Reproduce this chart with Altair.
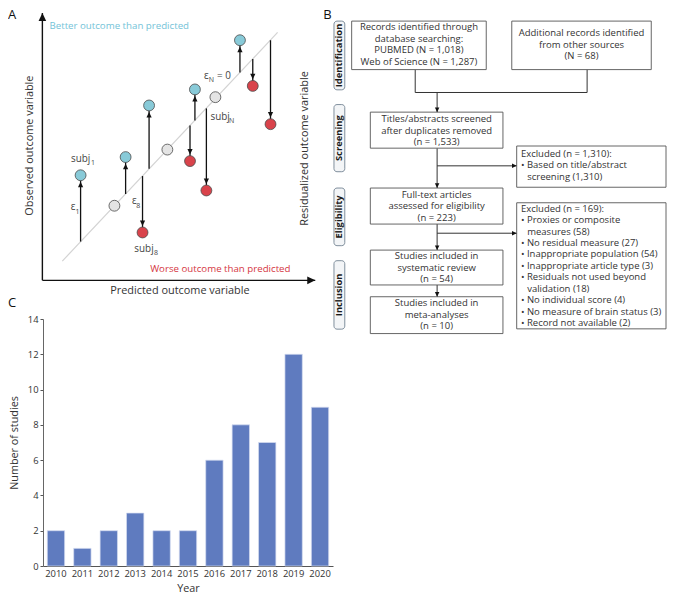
import altair as alt
import pandas as pd

FONT = "Open Sans"
TXT = "#333333"

# ---------------- Panel C: number of studies per year ----------------
years = ["2010", "2011", "2012", "2013", "2014", "2015", "2016", "2017", "2018", "2019", "2020"]
n_studies = [2, 1, 2, 3, 2, 2, 6, 8, 7, 12, 9]

# ---------------- Panel A: residual schematic (predicted / observed units) ----------------
subj_predicted = [1.40, 2.64, 3.05, 3.67, 3.91, 4.58, 5.41, 5.59, 6.01, 6.34, 7.24, 7.71, 8.36]
subj_fitted = [1.45, 2.79, 3.23, 3.90, 4.17, 4.89, 5.79, 5.98, 6.43, 6.85, 7.77, 8.28, 8.98]
subj_observed = [3.93, 2.79, 4.61, 1.79, 6.54, 4.89, 4.46, 7.14, 3.36, 6.85, 8.98, 7.27, 5.84]
subj_outcome = ["better", "fit", "better", "worse", "better", "fit", "worse",
                "better", "worse", "fit", "better", "worse", "worse"]
fit_line_x = [0.73, 8.62]
fit_line_y = [0.72, 9.27]
axis_len_x = 10
axis_len_y = 10

# ---------------- Panel B: PRISMA flow ----------------
phase_labels = ["Identification", "Screening", "Eligibility", "Inclusion"]
box_texts = [
    ["Records identified through", "database searching:", "PUBMED (N = 1,018)", "Web of Science (N = 1,287)"],
    ["Additional records identified", "from other sources", "(N = 68)"],
    ["Titles/abstracts screened", "after duplicates removed", "(n = 1,533)"],
    ["Full-text articles", "assessed for eligibility", "(n = 223)"],
    ["Studies included in", "systematic review", "(n = 54)"],
    ["Studies included in", "meta-analyses", "(n = 10)"],
]
excl_texts = [
    ["Excluded (n = 1,310):", "• Based on title/abstract", "  screening (1,310)"],
    ["Excluded (n = 169):", "• Proxies or composite", "  measures (58)", "• No residual measure (27)",
     "• Inappropriate population (54)", "• Inappropriate article type (3)",
     "• Residuals not used beyond", "  validation (18)", "• No individual score (4)",
     "• No measure of brain status (3)", "• Record not available (2)"],
]

# ---------------- layout (flow-chart geometry, panel B units) ----------------
tab_x = (334, 345)
tab_y = [(13.3, 83.3), (98.3, 166.7), (183.3, 242.0), (257.3, 327.0)]
box_geom = [(352, 489, 13.3, 62.7), (515, 657, 13.3, 62.7), (371, 506, 106, 142.7),
            (371, 506, 183.3, 220), (371, 506, 246.5, 282), (371, 506, 294, 331.5)]
box_first = [19.5, 25.7, 113.3, 190.3, 252.6, 300.7]
excl_geom = [(520, 672, 140.5, 182.5), (520, 672, 198.3, 326.7)]
excl_first = [148.5, 204.3]
excl_left = 524.3
excl_indent = 6.4
LINE_H = 11.65
segments = [(416.7, 62.7, 416.7, 86), (591.7, 62.7, 591.7, 86), (416.7, 86, 591.7, 86),
            (439, 86, 439, 106), (439, 142.7, 439, 183.3), (439, 160.7, 520, 160.7),
            (439, 220, 439, 246.5), (439, 229.3, 520, 229.3), (439, 282, 439, 294)]
heads_down = [(439, 106), (439, 183.3), (439, 246.5), (439, 294)]
heads_right = [(520, 160.7), (520, 229.3)]

A_W, A_H = 325, 290
B_W, B_H = 333, 327
C_W, C_H = 290, 247
C_LEFT = 35
GAP_AC = 19

UP = "M0,0L-0.95,2L0.95,2Z"
DOWN = "M0,0L-0.95,-2L0.95,-2Z"
RIGHT = "M0,0L-2,-0.95L-2,0.95Z"

# ======================= Panel A =======================
xA = alt.Scale(domain=[-1.26, 10.65], nice=False, zero=False)
yA = alt.Scale(domain=[-0.735, 10.11], nice=False, zero=False)


def XA(f):
    return alt.X(f, type="quantitative", scale=xA, axis=None)


def YA(f):
    return alt.Y(f, type="quantitative", scale=yA, axis=None)


subj = pd.DataFrame({"pred": subj_predicted, "fitted": subj_fitted,
                     "obs": subj_observed, "outcome": subj_outcome})
resid = subj[subj.outcome != "fit"]

fit_line = alt.Chart(pd.DataFrame({"x": fit_line_x, "y": fit_line_y})).mark_line(
    color="#d3d3d3", strokeWidth=1.2).encode(x=XA("x"), y=YA("y"))

axes_df = pd.DataFrame({"x": [0, 0], "y": [0, 0], "x2": [axis_len_x, 0], "y2": [0, axis_len_y]})
axes_rules = alt.Chart(axes_df).mark_rule(color="#111", strokeWidth=1.4).encode(
    x=XA("x"), y=YA("y"), x2="x2:Q", y2="y2:Q")
ax_head_r = alt.Chart(pd.DataFrame({"x": [axis_len_x], "y": [0]})).mark_point(
    shape=RIGHT, filled=True, color="#111", size=64, opacity=1, strokeWidth=0).encode(x=XA("x"), y=YA("y"))
ax_head_u = alt.Chart(pd.DataFrame({"x": [0], "y": [axis_len_y]})).mark_point(
    shape=UP, filled=True, color="#111", size=64, opacity=1, strokeWidth=0).encode(x=XA("x"), y=YA("y"))

res_rules = alt.Chart(resid).mark_rule(color="#111", strokeWidth=1.3).encode(
    x=XA("pred"), y=YA("fitted"), y2="obs:Q")
heads_up = alt.Chart(subj[subj.outcome == "better"]).mark_point(
    shape=UP, filled=True, color="#111", size=30, opacity=1, strokeWidth=0, yOffset=6.6).encode(
    x=XA("pred"), y=YA("obs"))
heads_dn = alt.Chart(subj[subj.outcome == "worse"]).mark_point(
    shape=DOWN, filled=True, color="#111", size=30, opacity=1, strokeWidth=0, yOffset=-6.6).encode(
    x=XA("pred"), y=YA("obs"))
circles = alt.Chart(subj).mark_point(
    shape="circle", filled=True, size=118, opacity=1, stroke="#4a4a4a", strokeWidth=0.8).encode(
    x=XA("pred"), y=YA("obs"),
    fill=alt.Fill("outcome:N", legend=None,
                  scale=alt.Scale(domain=["better", "worse", "fit"],
                                  range=["#88cad8", "#d9434b", "#e4e4e4"])))


def txtA(rows, **kw):
    df = pd.DataFrame(rows, columns=["t", "x", "y"])
    return alt.Chart(df).mark_text(font=FONT, **kw).encode(x=XA("x"), y=YA("y"), text="t:N")


panel_letters = txtA([["A", -1.26, 9.94], ["B", 10.29, 9.91], ["C", -1.26, -0.85]],
                     align="left", baseline="middle", fontSize=13, color="#111")
title_h = txtA([["Predicted outcome variable", 5.04, -0.39]],
               align="center", baseline="middle", fontSize=10.9, color=TXT)
title_v = txtA([["Observed outcome variable", -0.47, 5.04], ["Residualized outcome variable", 9.64, 4.93]],
               align="center", baseline="middle", angle=270, fontSize=10.9, color=TXT)
better_t = txtA([["Better outcome than predicted", 0.26, 9.50]],
                align="left", baseline="middle", fontSize=9.7, color="#74c3d8")
worse_t = txtA([["Worse outcome than predicted", 3.95, 0.44]],
               align="left", baseline="middle", fontSize=9.7, color="#d5363f")
labels_main = txtA([["subj", 1.05, 4.53], ["ε", 1.04, 2.76], ["ε", 3.28, 2.97],
                    ["subj", 3.37, 1.16], ["ε", 5.92, 7.65], ["= 0", 6.40, 7.65],
                    ["subj", 6.16, 6.12]],
                   align="left", baseline="middle", fontSize=9.9, color="#444")
labels_sub = txtA([["1", 1.78, 4.39], ["1", 1.21, 2.56], ["8", 3.44, 2.78],
                   ["8", 4.09, 1.03], ["N", 6.10, 7.48], ["N", 6.84, 5.97]],
                  align="left", baseline="middle", fontSize=7, color="#444")

panelA = alt.layer(fit_line, axes_rules, ax_head_r, ax_head_u, res_rules, heads_up, heads_dn,
                   circles, panel_letters, title_h, title_v, better_t, worse_t,
                   labels_main, labels_sub).properties(width=A_W, height=A_H)

# ======================= Panel B =======================
xB = alt.Scale(domain=[333, 672], nice=False, zero=False)
yB = alt.Scale(domain=[2, 335], nice=False, zero=False, reverse=True)


def XB(f):
    return alt.X(f, type="quantitative", scale=xB, axis=None)


def YB(f):
    return alt.Y(f, type="quantitative", scale=yB, axis=None)


tabs_df = pd.DataFrame({"x": [tab_x[0]] * 4, "x2": [tab_x[1]] * 4,
                        "y": [a for a, b in tab_y], "y2": [b for a, b in tab_y],
                        "t": phase_labels,
                        "cx": [(tab_x[0] + tab_x[1]) / 2] * 4,
                        "cy": [(a + b) / 2 for a, b in tab_y]})
tabs = alt.Chart(tabs_df).mark_rect(fill="#f3f5f7", stroke="#7f8e9c", strokeWidth=1, cornerRadius=3).encode(
    x=XB("x"), x2="x2:Q", y=YB("y"), y2="y2:Q")
tab_text = alt.Chart(tabs_df).mark_text(font=FONT, fontWeight="bold", fontSize=9.4, angle=270,
                                        align="center", baseline="middle", color="#1a1a1a").encode(
    x=XB("cx"), y=YB("cy"), text="t:N")

rect_rows = [g for g in box_geom] + [g for g in excl_geom]
rects_df = pd.DataFrame(rect_rows, columns=["x", "x2", "y", "y2"])
rects = alt.Chart(rects_df).mark_rect(fill="white", stroke="#555", strokeWidth=0.9).encode(
    x=XB("x"), x2="x2:Q", y=YB("y"), y2="y2:Q")

ctr_rows = []
for g, first, lines in zip(box_geom, box_first, box_texts):
    for i, s in enumerate(lines):
        ctr_rows.append([s, (g[0] + g[1]) / 2, first + i * LINE_H])
ctr_df = pd.DataFrame(ctr_rows, columns=["t", "x", "y"])
box_text = alt.Chart(ctr_df).mark_text(font=FONT, fontSize=9.5, align="center", baseline="middle",
                                       color=TXT).encode(x=XB("x"), y=YB("y"), text="t:N")

left_rows = []
for first, lines in zip(excl_first, excl_texts):
    for i, s in enumerate(lines):
        indent = excl_indent if s.startswith("  ") else 0
        left_rows.append([s.strip(), excl_left + indent, first + i * LINE_H])
left_df = pd.DataFrame(left_rows, columns=["t", "x", "y"])
excl_text = alt.Chart(left_df).mark_text(font=FONT, fontSize=9.5, align="left", baseline="middle",
                                         color=TXT).encode(x=XB("x"), y=YB("y"), text="t:N")

seg_df = pd.DataFrame(segments, columns=["x", "y", "x2", "y2"])
segs = alt.Chart(seg_df).mark_rule(color="#333", strokeWidth=1).encode(
    x=XB("x"), y=YB("y"), x2="x2:Q", y2="y2:Q")
hd_df = pd.DataFrame(heads_down, columns=["x", "y"])
hdown = alt.Chart(hd_df).mark_point(shape=DOWN, filled=True, color="#111", size=22, opacity=1,
                                    strokeWidth=0).encode(x=XB("x"), y=YB("y"))
hr_df = pd.DataFrame(heads_right, columns=["x", "y"])
hright = alt.Chart(hr_df).mark_point(shape=RIGHT, filled=True, color="#111", size=22, opacity=1,
                                     strokeWidth=0).encode(x=XB("x"), y=YB("y"))

panelB = alt.layer(tabs, tab_text, segs, rects, box_text, excl_text, hdown, hright).properties(
    width=B_W, height=B_H)

# ======================= Panel C =======================
c_df = pd.DataFrame({"Year": years, "Studies": n_studies})
bars = alt.Chart(c_df).mark_bar(color="#5f7bbf", stroke="#d5ddf0", strokeWidth=0.7).encode(
    x=alt.X("Year:N", sort=None,
            scale=alt.Scale(paddingInner=0.343, paddingOuter=0.163),
            axis=alt.Axis(title="Year", labelAngle=0, ticks=False, tickSize=0, labelPadding=3,
                          domainColor="#555", labelFont=FONT, labelFontSize=9.4, labelColor=TXT,
                          titleFont=FONT, titleFontSize=10.8, titleFontWeight="normal",
                          titleColor=TXT, titlePadding=5)),
    y=alt.Y("Studies:Q", scale=alt.Scale(domain=[0, 14], nice=False),
            axis=alt.Axis(title="Number of studies", values=[0, 2, 4, 6, 8, 10, 12, 14], grid=False,
                          tickSize=3, tickColor="#555", domainColor="#666", labelPadding=2,
                          labelFont=FONT, labelFontSize=9.4, labelColor=TXT,
                          titleFont=FONT, titleFontSize=10.8, titleFontWeight="normal",
                          titleColor=TXT, titlePadding=8)),
).properties(width=C_W, height=C_H)

spacer = alt.Chart(pd.DataFrame({"t": [""]})).mark_text().encode(
    x=alt.value(0), y=alt.value(0), text="t:N").properties(width=C_LEFT, height=C_H)

# with "flush" bounds a nested concat counts as zero-width, so the spacing sets the offset
rowC = alt.hconcat(spacer, bars, spacing=0, bounds="flush")
left_col = alt.vconcat(panelA, rowC, spacing=GAP_AC, bounds="flush")
chart = alt.hconcat(left_col, panelB, spacing=A_W, bounds="flush").properties(padding=0)
chart = chart.configure(font=FONT).configure_view(strokeWidth=0)

chart.save("out.html", embed_options={"renderer": "svg", "actions": False})
